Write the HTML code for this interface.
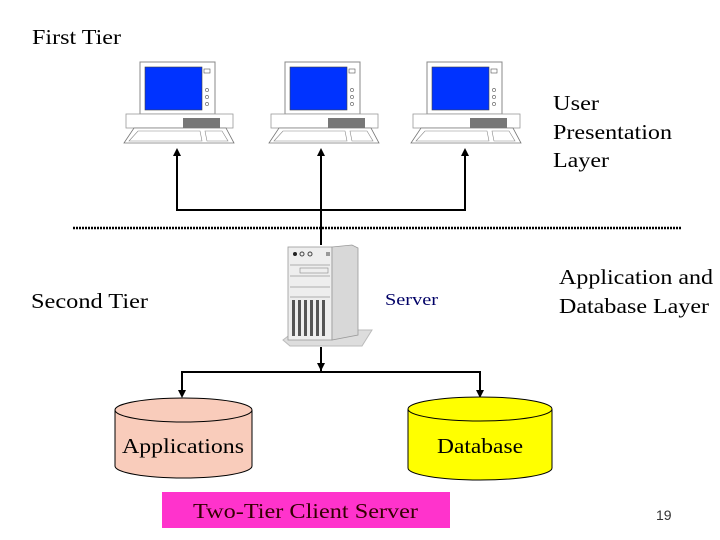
<!DOCTYPE html>
<html><head><style>body{margin:0;background:#fff}svg{display:block}</style></head><body>
<svg width="720" height="540" viewBox="0 0 720 540" xmlns="http://www.w3.org/2000/svg" font-family="Liberation Serif, serif">
<defs>
<g id="pc">
<rect x="140" y="62" width="75" height="52" fill="#fff" stroke="#888" stroke-width="1"/>
<rect x="145" y="67" width="57" height="43" fill="#0033ff" stroke="#444" stroke-width="0.6"/>
<rect x="204" y="69" width="6" height="4" fill="none" stroke="#555" stroke-width="0.6"/>
<circle cx="207" cy="90" r="1.6" fill="none" stroke="#555" stroke-width="0.6"/>
<circle cx="207" cy="97" r="1.6" fill="none" stroke="#555" stroke-width="0.6"/>
<circle cx="207" cy="104" r="1.6" fill="none" stroke="#555" stroke-width="0.6"/>
<rect x="126" y="114" width="107" height="14" fill="#fff" stroke="#999" stroke-width="0.8"/>
<rect x="183" y="118" width="37" height="10" fill="#777"/>
<path d="M134 128 L226 128 L234 143 L124 143 Z" fill="#fff" stroke="#777" stroke-width="0.8"/>
<path d="M138 131 L200 131 L202 141 L129 141 Z M205 131 L222 131 L228 141 L207 141 Z" fill="none" stroke="#888" stroke-width="0.6"/>
</g>
</defs>
<use href="#pc"/>
<use href="#pc" transform="translate(145,0)"/>
<use href="#pc" transform="translate(287,0)"/>
<g stroke="#000" stroke-width="2" fill="none">
<path d="M177 154 V210 H465 V154 M321 154 V245"/>
<path d="M321 347 V372 M182 392 V372 H480 V392"/>
</g>
<g fill="#000">
<path d="M173 156 L177 148 L181 156Z"/><path d="M317 156 L321 148 L325 156Z"/><path d="M461 156 L465 148 L469 156Z"/>
<path d="M317 363 L321 371 L325 363Z" />
<path d="M178 390 L182 398 L186 390Z"/><path d="M476 390 L480 398 L484 390Z"/>
</g>
<line x1="73" y1="228" x2="682" y2="228" stroke="#000" stroke-width="2.5" stroke-dasharray="2,1"/>
<path d="M283 340 L296 330 L372 330 L362 346 L290 346Z" fill="#ddd" stroke="#bbb"/>
<rect x="288" y="247" width="44" height="93" fill="#eee" stroke="#999" stroke-width="0.8"/>
<path d="M332 247 L352 245 L358 248 L358 335 L332 340Z" fill="#d8d8d8" stroke="#999" stroke-width="0.8"/>
<circle cx="295" cy="254" r="2" fill="#222"/><circle cx="302" cy="254" r="2" fill="none" stroke="#444"/><circle cx="310" cy="254" r="2" fill="none" stroke="#444"/>
<rect x="326" y="252" width="4" height="4" fill="#999"/>
<g stroke="#999" stroke-width="0.8"><line x1="290" y1="265" x2="330" y2="265"/><line x1="290" y1="276" x2="330" y2="276"/><line x1="290" y1="287" x2="330" y2="287"/><line x1="290" y1="297" x2="330" y2="297"/></g>
<rect x="300" y="268" width="28" height="5" fill="none" stroke="#888" stroke-width="0.6"/>
<g fill="#555"><rect x="292" y="300" width="3" height="36"/><rect x="298" y="300" width="3" height="36"/><rect x="304" y="300" width="3" height="36"/><rect x="310" y="300" width="3" height="36"/><rect x="316" y="300" width="3" height="36"/><rect x="322" y="300" width="3" height="36"/></g>
<g stroke="#000" stroke-width="1">
<path d="M115 410 V466 A68.5 12 0 0 0 252 466 V410" fill="#f9ccbb"/>
<ellipse cx="183.5" cy="410" rx="68.5" ry="12" fill="#f9ccbb"/>
<path d="M408 409 V468 A72 12 0 0 0 552 468 V409" fill="#ffff00"/>
<ellipse cx="480" cy="409" rx="72" ry="12" fill="#ffff00"/>
</g>
<rect x="162" y="492" width="288" height="36" fill="#ff33cc"/>
<g font-size="21" fill="#000" lengthAdjust="spacingAndGlyphs">
<text x="32" y="44" textLength="89" lengthAdjust="spacingAndGlyphs">First Tier</text>
<text x="553" y="110" textLength="46" lengthAdjust="spacingAndGlyphs">User</text>
<text x="553" y="139" textLength="119" lengthAdjust="spacingAndGlyphs">Presentation</text>
<text x="553" y="167" textLength="56" lengthAdjust="spacingAndGlyphs">Layer</text>
<text x="31" y="308" textLength="117" lengthAdjust="spacingAndGlyphs">Second Tier</text>
<text x="559" y="284" textLength="154" lengthAdjust="spacingAndGlyphs">Application and</text>
<text x="559" y="313" textLength="150" lengthAdjust="spacingAndGlyphs">Database Layer</text>
<text x="122" y="453" textLength="122" lengthAdjust="spacingAndGlyphs">Applications</text>
<text x="437" y="453" textLength="86" lengthAdjust="spacingAndGlyphs">Database</text>
<text x="193" y="518" fill="#330000" textLength="225" lengthAdjust="spacingAndGlyphs">Two-Tier Client Server</text>
</g>
<text x="385" y="305" font-size="17" fill="#000066" textLength="53" lengthAdjust="spacingAndGlyphs">Server</text>
<text x="656" y="520" font-size="14" font-family="Liberation Sans, sans-serif" fill="#333">19</text>
</svg>
</body></html>
